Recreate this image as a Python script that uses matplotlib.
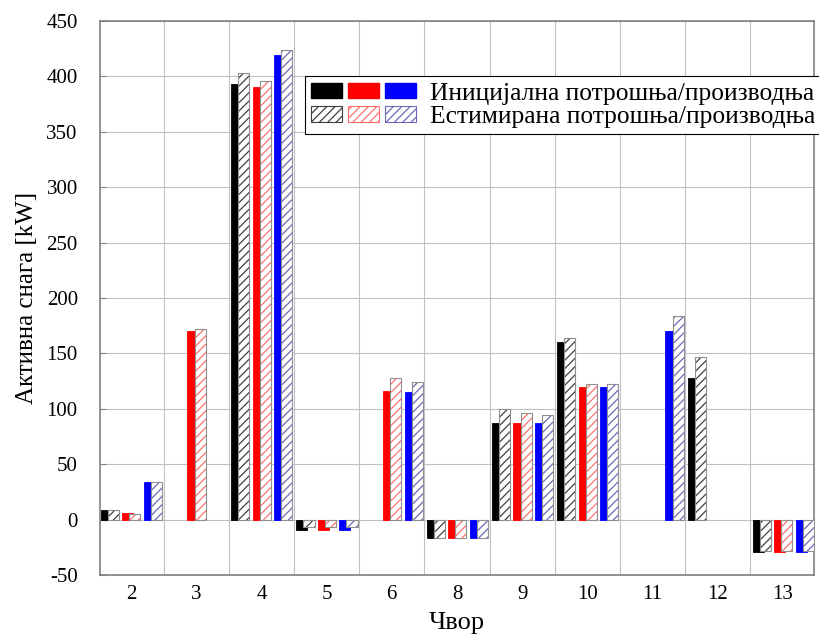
import numpy as np
import matplotlib
matplotlib.use("Agg")
import matplotlib.pyplot as plt
from matplotlib.patches import Patch
from matplotlib.legend_handler import HandlerTuple

plt.rcParams['font.family'] = ['Liberation Serif', 'DejaVu Serif']
plt.rcParams['hatch.linewidth'] = 0.9
plt.rcParams['axes.unicode_minus'] = False

nan = np.nan

# чворови и снаге [kW] (nan = нема вриједности)
cvorovi = ['2', '3', '4', '5', '6', '8', '9', '10', '11', '12', '13']
init_crna = [9, nan, 393, -9, nan, -17, 87, 160, nan, 128, -29]
est_crna = [9, nan, 403, -7, nan, -17, 100, 164, nan, 147, -28]
init_crvena = [6, 170, 390, -9, 116, -17, 87, 120, nan, nan, -29]
est_crvena = [5, 172, 396, -7, 128, -17, 96, 122, nan, nan, -28]
init_plava = [34, nan, 419, -9, 115, -17, 87, 120, 170, nan, -29]
est_plava = [34, nan, 424, -7, 124, -17, 94, 122, 184, nan, -28]

boje = ['black', 'red', 'blue']
srafure = ['#404040', '#ff7070', '#6a6ab8']
inicijalne = [init_crna, init_crvena, init_plava]
estimirane = [est_crna, est_crvena, est_plava]
pomaci = [-0.38, -0.05, 0.28]
sirina = 0.17

fig = plt.figure(figsize=(8.2, 6.35), dpi=100)
ax = fig.add_axes([100/820, 1 - 575/635, 714/820, 554/635])

x = np.arange(len(cvorovi))
for boja, sr, ini, est, p in zip(boje, srafure, inicijalne, estimirane, pomaci):
    ax.bar(x + p, ini, sirina, color=boja, edgecolor=boja, linewidth=0.6, zorder=3)
    ax.bar(x + p + 0.11, est, sirina, facecolor='white', edgecolor=sr,
           hatch='////', linewidth=0, zorder=4)
    ax.bar(x + p + 0.11, est, sirina, facecolor='none', edgecolor='#909090',
           linewidth=0.8, zorder=5)

ax.set_xlim(-0.475, 10.475)
ax.set_ylim(-50, 450)
ax.set_xticks(x)
ax.set_xticklabels(cvorovi, fontsize=15)
ax.set_xticks(np.arange(0.5, 10.5, 1), minor=True)
ax.set_yticks(np.arange(-50, 451, 50))
ax.tick_params(axis='y', labelsize=15, direction='in', length=4, pad=16, color='#808080')
ax.tick_params(axis='x', which='both', length=0, pad=7)

ax.grid(True, axis='y', color='#c0c0c0', linewidth=0.8, zorder=0)
ax.grid(True, axis='x', which='minor', color='#c0c0c0', linewidth=0.8, zorder=0)
ax.set_axisbelow(True)
for s in ax.spines.values():
    s.set_color('#808080')
    s.set_linewidth(1.2)

ax.set_xlabel('Чвор', fontsize=19, labelpad=6)
ax.set_ylabel('Активна снага [kW]', fontsize=18, labelpad=6)

h1 = tuple(Patch(facecolor=b, edgecolor=b) for b in boje)
h2 = tuple(Patch(facecolor='white', edgecolor=s, hatch='////', linewidth=0.8) for s in srafure)
leg = ax.legend([h1, h2], ['Иницијална потрошња/производња', 'Естимирана потрошња/производња'],
                handler_map={tuple: HandlerTuple(ndivide=None, pad=0.25)},
                loc='upper left', bbox_to_anchor=(0.287, 0.9), borderaxespad=0,
                fontsize=18.4, handlelength=4.1, handleheight=0.55, handletextpad=0.55,
                labelspacing=0.05, borderpad=0.25, fancybox=False, framealpha=1,
                edgecolor='black')
leg.get_frame().set_linewidth(0.8)
leg.set_zorder(10)

fig.savefig('out.png', dpi=100)
